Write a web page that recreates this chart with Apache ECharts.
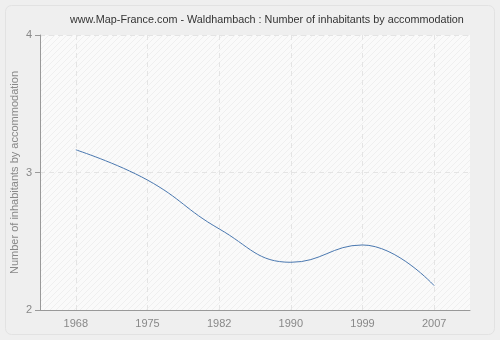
<!DOCTYPE html>
<html><head><meta charset="utf-8">
<script src="https://cdn.jsdelivr.net/npm/echarts@6/dist/echarts.min.js"></script>
<style>html,body{margin:0;padding:0;background:#efefef}#c{width:500px;height:340px}</style>
</head><body><div id="c"></div>
<script>
var categories = ['1968', '1975', '1982', '1990', '1999', '2007'];
var values = [3.165, 2.945, 2.59, 2.347, 2.473, 2.177];
var yTicks = [2, 3, 4];
var titleText = 'www.Map-France.com - Waldhambach : Number of inhabitants by accommodation';
var yName = 'Number of inhabitants by accommodation';

var pc = document.createElement('canvas');
pc.width = 6; pc.height = 6;
var g = pc.getContext('2d');
g.fillStyle = '#fafafa'; g.fillRect(0, 0, 6, 6);
g.strokeStyle = '#efefef'; g.lineWidth = 1;
g.beginPath(); g.moveTo(0, 6); g.lineTo(6, 0); g.stroke();
g.beginPath(); g.moveTo(-1, 1); g.lineTo(1, -1); g.stroke();
g.beginPath(); g.moveTo(5, 7); g.lineTo(7, 5); g.stroke();

var chart = echarts.init(document.getElementById('c'), null, {renderer: 'canvas'});
chart.setOption({
  backgroundColor: '#efefef',
  animation: false,
  graphic: [{type: 'rect', shape: {x: 5.5, y: 5.5, width: 489, height: 329, r: 6},
    style: {fill: 'none', stroke: '#e2e2e2', lineWidth: 1}, z: -1}],
  title: {text: titleText, left: 65, top: 10,
    textStyle: {fontFamily: 'Liberation Sans, Arial', fontSize: 10.8, fontWeight: 'normal', color: '#333'}},
  grid: {left: 40, right: 30, top: 35, bottom: 30, show: true, outerBoundsMode: 'none', containLabel: false,
    backgroundColor: {image: pc, repeat: 'repeat'}, borderWidth: 0},
  xAxis: {type: 'category', data: categories, boundaryGap: true,
    axisLine: {lineStyle: {color: '#999', width: 1}},
    axisTick: {alignWithLabel: true, length: 5, lineStyle: {color: '#999'}},
    axisLabel: {color: '#888', fontSize: 11, fontFamily: 'Liberation Sans, Arial', margin: 8},
    splitLine: {show: false}},
  yAxis: {type: 'value', min: yTicks[0], max: yTicks[yTicks.length - 1], interval: 1,
    name: yName, nameLocation: 'middle', nameGap: 20, nameMoveOverlap: false,
    nameTextStyle: {color: '#888', fontSize: 11, fontFamily: 'Liberation Sans, Arial'},
    axisLine: {show: true, lineStyle: {color: '#999'}},
    axisTick: {show: true, length: 5, lineStyle: {color: '#999'}},
    axisLabel: {color: '#888', fontSize: 11, fontFamily: 'Liberation Sans, Arial', margin: 8},
    splitLine: {show: true, lineStyle: {color: '#e4e4e4', type: [5, 4]}}},
  series: [{type: 'line', data: values, smooth: 0.45, showSymbol: false, symbol: 'none',
    lineStyle: {color: '#4a78b0', width: 1},
    markLine: {silent: true, symbol: 'none', label: {show: false},
      lineStyle: {color: '#e4e4e4', type: [5, 4], width: 1},
      data: categories.map(function (c) { return {xAxis: c}; }), z: 1}}]
});
</script></body></html>
